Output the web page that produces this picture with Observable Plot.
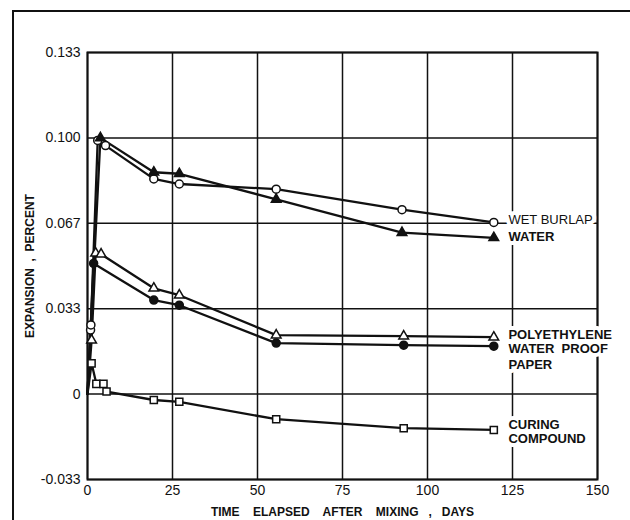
<!DOCTYPE html>
<html>
<head>
<meta charset="utf-8">
<script src="https://cdn.jsdelivr.net/npm/d3@7"></script>
<script src="https://cdn.jsdelivr.net/npm/@observablehq/plot@0.6"></script>
<style>
  html, body { margin: 0; padding: 0; background: #fff; }
  #page { position: relative; width: 630px; height: 520px; overflow: hidden; }
  #border { position: absolute; left: 12px; top: 10px; width: 700px; height: 600px;
            border-left: 2px solid #111; border-top: 2px solid #111; }
  #chart { position: absolute; left: 0; top: 0; }
</style>
</head>
<body>
<div id="page"><div id="border"></div><div id="chart"></div></div>
<script>
// Expansion of concrete under different curing methods (days after mixing vs. percent)
const wetBurlapDays  = [0, 0.9, 1.0, 3.0, 5.3, 19.5, 27, 55.5, 92.5, 119.5];
const wetBurlapVals  = [0, 0.025, 0.027, 0.099, 0.097, 0.084, 0.082, 0.080, 0.072, 0.067];

const waterDays      = [0, 3.8, 19.5, 27, 55.5, 92.5, 119.5];
const waterVals      = [0, 0.100, 0.0866, 0.086, 0.076, 0.063, 0.061];

const polyDays       = [0, 1.2, 2.4, 4.0, 19.5, 27, 55.5, 93, 119.5];
const polyVals       = [0, 0.021, 0.055, 0.0546, 0.0413, 0.0386, 0.023, 0.0226, 0.0222];

const paperDays      = [0, 1.8, 19.5, 27, 55.5, 93, 119.5];
const paperVals      = [0, 0.051, 0.0367, 0.0347, 0.0199, 0.0191, 0.0187];

const curingDays     = [0, 1.2, 2.6, 4.7, 5.6, 19.5, 27, 55.5, 93, 119.5];
const curingVals     = [0, 0.012, 0.004, 0.004, 0.001, -0.0023, -0.003, -0.0098, -0.0133, -0.014];

const yTickValues = [-1/30, 0, 1/30, 2/30, 3/30, 4/30];
const yTickLabels = ["-0.033", "0", "0.033", "0.067", "0.100", "0.133"];
const xTickValues = [0, 25, 50, 75, 100, 125, 150];

// Labels at the right-hand end of the curves
const labelLines = ["WET BURLAP", "WATER", "POLYETHYLENE", "WATER  PROOF", "PAPER", "CURING", "COMPOUND"];
const labelYs    = [0.0680, 0.0612, 0.0230, 0.0175, 0.0113, -0.0120, -0.0174];
const labelBold  = [false, true, true, true, true, true, true];

const seriesDefs = [
  {name: "Wet burlap", days: wetBurlapDays, vals: wetBurlapVals, symbol: "circle", fill: "white"},
  {name: "Water", days: waterDays, vals: waterVals, symbol: "triangle", fill: "#111"},
  {name: "Polyethylene", days: polyDays, vals: polyVals, symbol: "triangle", fill: "white"},
  {name: "Water proof paper", days: paperDays, vals: paperVals, symbol: "circle", fill: "#111"},
  {name: "Curing compound", days: curingDays, vals: curingVals, symbol: "square", fill: "white"}
];

const rows = seriesDefs.flatMap(s => s.days.map((d, i) => ({
  series: s.name, day: d, value: s.vals[i], symbol: s.symbol, fill: s.fill, marked: i > 0
})));
const labels = labelLines.map((t, i) => ({text: t, y: labelYs[i], bold: labelBold[i]}));
const marked = rows.filter(d => d.marked);

const ink = "#111";
const labelStyle = {x: 123.8, y: "y", text: "text", textAnchor: "start", fontSize: 13, fill: ink,
                    stroke: "white", strokeWidth: 8};
const chart = Plot.plot({
  width: 630,
  height: 520,
  marginLeft: 87,
  marginRight: 33,
  marginTop: 52,
  marginBottom: 41,
  style: {fontFamily: "'Liberation Sans', Arial, sans-serif", background: "transparent", color: ink},
  x: {domain: [0, 150]},
  y: {domain: [-1/30, 4/30]},
  marks: [
    Plot.gridX(xTickValues, {stroke: ink, strokeOpacity: 1, strokeWidth: 1.5}),
    Plot.gridY(yTickValues, {stroke: ink, strokeOpacity: 1, strokeWidth: 1.5}),
    Plot.frame({stroke: ink, strokeWidth: 2}),
    Plot.axisX(xTickValues, {
      tickSize: 0, tickPadding: 6, fontSize: 14,
      label: "TIME    ELAPSED    AFTER    MIXING   ,   DAYS",
      labelAnchor: "center", labelArrow: "none", labelOffset: 36
    }),
    Plot.axisY(yTickValues, {
      tickSize: 0, tickPadding: 7, fontSize: 14,
      tickFormat: (d, i) => yTickLabels[i],
      label: "EXPANSION  ,  PERCENT",
      labelAnchor: "center", labelArrow: "none", labelOffset: 62
    }),
    Plot.line(rows, {x: "day", y: "value", z: "series", stroke: ink, strokeWidth: 2.3}),
    Plot.dot(marked.filter(d => d.symbol !== "triangle"), {
      x: "day", y: "value", symbol: "symbol", fill: "fill", stroke: ink, strokeWidth: 1.5, r: 4
    }),
    Plot.dot(marked.filter(d => d.symbol === "triangle"), {
      x: "day", y: "value", symbol: "triangle", fill: "fill", stroke: ink, strokeWidth: 1.5, r: 3.6
    }),
    Plot.text(labels.filter(d => !d.bold), labelStyle),
    Plot.text(labels.filter(d => d.bold), {...labelStyle, fontWeight: "bold"})
  ]
});

// Axis titles in bold, slightly smaller
d3.select(chart).selectAll("[aria-label='x-axis label'] text, [aria-label='y-axis label'] text")
  .attr("font-weight", "bold").attr("font-size", 12);

document.getElementById("chart").appendChild(chart);
</script>
</body>
</html>
